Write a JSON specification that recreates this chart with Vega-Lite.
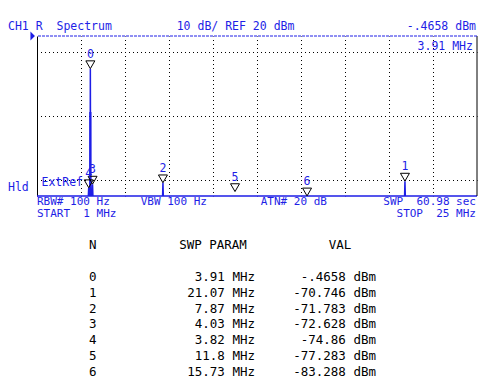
{
  "$schema": "https://vega.github.io/schema/vega-lite/v6.json",
  "padding": {"left": 8, "top": 21, "right": 0, "bottom": 0},
  "background": "white",
  "config": {"view": {"stroke": null}},
  "datasets": {
    "markers": [
      {"N": 0, "freq": 3.91, "val": -0.4658, "param": "3.91 MHz", "valText": "-.4658 dBm"},
      {"N": 1, "freq": 21.07, "val": -70.746, "param": "21.07 MHz", "valText": "-70.746 dBm"},
      {"N": 2, "freq": 7.87, "val": -71.783, "param": "7.87 MHz", "valText": "-71.783 dBm"},
      {"N": 3, "freq": 4.03, "val": -72.628, "param": "4.03 MHz", "valText": "-72.628 dBm"},
      {"N": 4, "freq": 3.82, "val": -74.86, "param": "3.82 MHz", "valText": "-74.86 dBm"},
      {"N": 5, "freq": 11.8, "val": -77.283, "param": "11.8 MHz", "valText": "-77.283 dBm"},
      {"N": 6, "freq": 15.73, "val": -83.288, "param": "15.73 MHz", "valText": "-83.288 dBm"}
    ],
    "trace": [
      {"freq": 1, "level": -80},
      {"freq": 3.8, "level": -80},
      {"freq": 3.82, "level": -74.86},
      {"freq": 3.84, "level": -80},
      {"freq": 3.88, "level": -80},
      {"freq": 3.885, "level": -28},
      {"freq": 3.905, "level": -28},
      {"freq": 3.91, "level": -0.4658},
      {"freq": 3.915, "level": -28},
      {"freq": 3.935, "level": -28},
      {"freq": 3.94, "level": -80},
      {"freq": 4.01, "level": -80},
      {"freq": 4.03, "level": -72.628},
      {"freq": 4.05, "level": -80},
      {"freq": 7.85, "level": -80},
      {"freq": 7.87, "level": -71.783},
      {"freq": 7.89, "level": -80},
      {"freq": 21.05, "level": -80},
      {"freq": 21.07, "level": -70.746},
      {"freq": 21.09, "level": -80},
      {"freq": 25, "level": -80}
    ]
  },
  "spacing": 20,
  "vconcat": [
    {
      "width": 440,
      "height": 160,
      "resolve": {"scale": {"y": "independent"}},
      "layer": [
        {
          "layer": [
            {
              "data": {"name": "trace"},
              "mark": {"type": "line", "color": "#1e1ee6", "strokeWidth": 1.5},
              "encoding": {
                "x": {"field": "freq", "type": "quantitative",
                  "scale": {"domain": [1, 25], "nice": false, "zero": false},
                  "axis": {"values": [3.4, 5.8, 8.2, 10.6, 13, 15.4, 17.8, 20.2, 22.6], "grid": true, "gridDash": [1, 3], "gridDashOffset": 0.5, "gridColor": "black", "gridOpacity": 1, "gridWidth": 1, "labels": false, "ticks": false, "domain": false, "title": null}},
                "y": {"field": "level", "type": "quantitative",
                  "scale": {"domain": [-80, 20], "nice": false, "zero": false, "clamp": true},
                  "axis": {"values": [-70, -60, -50, -40, -30, -20, -10, 0, 10], "grid": true, "gridDash": [1, 3], "gridDashOffset": 0.5, "gridColor": "black", "gridOpacity": 1, "gridWidth": 1, "labels": false, "ticks": false, "domain": true, "domainColor": "black", "domainWidth": 1, "title": null}}
              }
            },
            {
              "data": {"values": [{}]},
              "mark": {"type": "rule", "color": "black", "strokeWidth": 1},
              "encoding": {"x": {"datum": 25}}
            },
            {
              "data": {"values": [{}]},
              "mark": {"type": "rule", "color": "#1e1ee6", "strokeWidth": 1, "strokeDash": [3, 1]},
              "encoding": {"y": {"datum": 20}}
            },
            {
              "data": {"name": "markers"},
              "mark": {"type": "point", "shape": "triangle-down", "size": 81, "filled": false, "color": "black", "strokeWidth": 1, "opacity": 1, "yOffset": -4},
              "encoding": {
                "x": {"field": "freq", "type": "quantitative"},
                "y": {"field": "val", "type": "quantitative"}
              }
            },
            {
              "data": {"name": "markers"},
              "mark": {"type": "text", "font": "DejaVu Sans Mono", "fontSize": 11.5, "color": "#1e1ee6", "baseline": "middle", "align": "center", "dy": -14},
              "encoding": {
                "x": {"field": "freq", "type": "quantitative"},
                "y": {"field": "val", "type": "quantitative"},
                "text": {"field": "N"}
              }
            }
          ]
        },
        {
          "data": {"values": [{}]},
          "layer": [
            {
              "mark": {"type": "point", "shape": "M-0.5,-1L0.5,0L-0.5,1Z", "size": 81, "filled": true, "color": "#1e1ee6", "opacity": 1},
              "encoding": {
                "x": {"datum": 0.765, "scale": {"domain": [1, 25], "nice": false, "zero": false}},
                "y": {"datum": 20, "scale": {"domain": [-80, 20], "nice": false, "zero": false}, "axis": null}
              }
            },
            {
              "mark": {"type": "text", "font": "DejaVu Sans Mono", "fontSize": 11.5, "color": "#1e1ee6", "baseline": "middle", "align": "left"},
              "encoding": {"x": {"datum": -0.5818}, "y": {"datum": 25.625, "axis": null}, "text": {"value": "CH1 R\u00a0 Spectrum"}}
            },
            {
              "mark": {"type": "text", "font": "DejaVu Sans Mono", "fontSize": 11.5, "color": "#1e1ee6", "baseline": "middle", "align": "left"},
              "encoding": {"x": {"datum": 8.62}, "y": {"datum": 25.625, "axis": null}, "text": {"value": "10 dB/ REF 20 dBm"}}
            },
            {
              "mark": {"type": "text", "font": "DejaVu Sans Mono", "fontSize": 11.5, "color": "#1e1ee6", "baseline": "middle", "align": "right"},
              "encoding": {"x": {"datum": 24.945}, "y": {"datum": 25.625, "axis": null}, "text": {"value": "-.4658 dBm"}}
            },
            {
              "mark": {"type": "text", "font": "DejaVu Sans Mono", "fontSize": 11.5, "color": "#1e1ee6", "baseline": "middle", "align": "right"},
              "encoding": {"x": {"datum": 24.78}, "y": {"datum": 13.1, "axis": null}, "text": {"value": "3.91 MHz"}}
            },
            {
              "mark": {"type": "text", "font": "DejaVu Sans Mono", "fontSize": 11.5, "color": "#1e1ee6", "baseline": "middle", "align": "left"},
              "encoding": {"x": {"datum": -0.5818}, "y": {"datum": -75.3, "axis": null}, "text": {"value": "Hld"}}
            },
            {
              "mark": {"type": "text", "font": "DejaVu Sans Mono", "fontSize": 11.5, "color": "#1e1ee6", "baseline": "middle", "align": "left"},
              "encoding": {"x": {"datum": 1.245}, "y": {"datum": -71.7, "axis": null}, "text": {"value": "ExtRef"}}
            },
            {
              "mark": {"type": "text", "font": "DejaVu Sans Mono", "fontSize": 11, "color": "#1e1ee6", "baseline": "middle", "align": "left"},
              "encoding": {"x": {"datum": 1}, "y": {"datum": -83.5, "axis": null}, "text": {"value": "RBW# 100 Hz"}}
            },
            {
              "mark": {"type": "text", "font": "DejaVu Sans Mono", "fontSize": 11, "color": "#1e1ee6", "baseline": "middle", "align": "left"},
              "encoding": {"x": {"datum": 6.656}, "y": {"datum": -83.5, "axis": null}, "text": {"value": "VBW 100 Hz"}}
            },
            {
              "mark": {"type": "text", "font": "DejaVu Sans Mono", "fontSize": 11, "color": "#1e1ee6", "baseline": "middle", "align": "left"},
              "encoding": {"x": {"datum": 13.2}, "y": {"datum": -83.5, "axis": null}, "text": {"value": "ATN# 20 dB"}}
            },
            {
              "mark": {"type": "text", "font": "DejaVu Sans Mono", "fontSize": 11, "color": "#1e1ee6", "baseline": "middle", "align": "right"},
              "encoding": {"x": {"datum": 24.945}, "y": {"datum": -83.5, "axis": null}, "text": {"value": "SWP\u00a0 60.98 sec"}}
            },
            {
              "mark": {"type": "text", "font": "DejaVu Sans Mono", "fontSize": 11, "color": "#1e1ee6", "baseline": "middle", "align": "left"},
              "encoding": {"x": {"datum": 1}, "y": {"datum": -91, "axis": null}, "text": {"value": "START\u00a0 1 MHz"}}
            },
            {
              "mark": {"type": "text", "font": "DejaVu Sans Mono", "fontSize": 11, "color": "#1e1ee6", "baseline": "middle", "align": "right"},
              "encoding": {"x": {"datum": 24.945}, "y": {"datum": -91, "axis": null}, "text": {"value": "STOP\u00a0 25 MHz"}}
            }
          ]
        }
      ]
    },
    {
      "width": 391,
      "height": 127,
      "layer": [
        {
          "data": {"values": [{}]},
          "mark": {"type": "text", "font": "DejaVu Sans Mono", "fontSize": 12.5, "color": "black", "baseline": "middle", "align": "left"},
          "encoding": {
            "x": {"datum": "N", "type": "nominal", "scale": {"type": "point", "domain": ["N", "SWP PARAM", "VAL"], "padding": 0.3624}, "axis": null},
            "y": {"datum": -2, "type": "quantitative", "scale": {"domain": [-2, 6], "reverse": true, "nice": false, "zero": false}, "axis": null},
            "text": {"value": "N"}
          }
        },
        {
          "data": {"values": [{}]},
          "mark": {"type": "text", "font": "DejaVu Sans Mono", "fontSize": 12.5, "color": "black", "baseline": "middle", "align": "center", "dx": -19.5},
          "encoding": {
            "x": {"datum": "SWP PARAM", "type": "nominal", "axis": null},
            "y": {"datum": -2, "type": "quantitative", "axis": null},
            "text": {"value": "SWP PARAM"}
          }
        },
        {
          "data": {"values": [{}]},
          "mark": {"type": "text", "font": "DejaVu Sans Mono", "fontSize": 12.5, "color": "black", "baseline": "middle", "align": "center", "dx": -36},
          "encoding": {
            "x": {"datum": "VAL", "type": "nominal", "axis": null},
            "y": {"datum": -2, "type": "quantitative", "axis": null},
            "text": {"value": "VAL"}
          }
        },
        {
          "data": {"name": "markers"},
          "mark": {"type": "text", "font": "DejaVu Sans Mono", "fontSize": 12.5, "color": "black", "baseline": "middle", "align": "left"},
          "encoding": {
            "x": {"datum": "N", "type": "nominal", "axis": null},
            "y": {"field": "N", "type": "quantitative", "axis": null},
            "text": {"field": "N"}
          }
        },
        {
          "data": {"name": "markers"},
          "mark": {"type": "text", "font": "DejaVu Sans Mono", "fontSize": 12.5, "color": "black", "baseline": "middle", "align": "right", "dx": 22.5},
          "encoding": {
            "x": {"datum": "SWP PARAM", "type": "nominal", "axis": null},
            "y": {"field": "N", "type": "quantitative", "axis": null},
            "text": {"field": "param"}
          }
        },
        {
          "data": {"name": "markers"},
          "mark": {"type": "text", "font": "DejaVu Sans Mono", "fontSize": 12.5, "color": "black", "baseline": "middle", "align": "right"},
          "encoding": {
            "x": {"datum": "VAL", "type": "nominal", "axis": null},
            "y": {"field": "N", "type": "quantitative", "axis": null},
            "text": {"field": "valText"}
          }
        }
      ]
    }
  ]
}
